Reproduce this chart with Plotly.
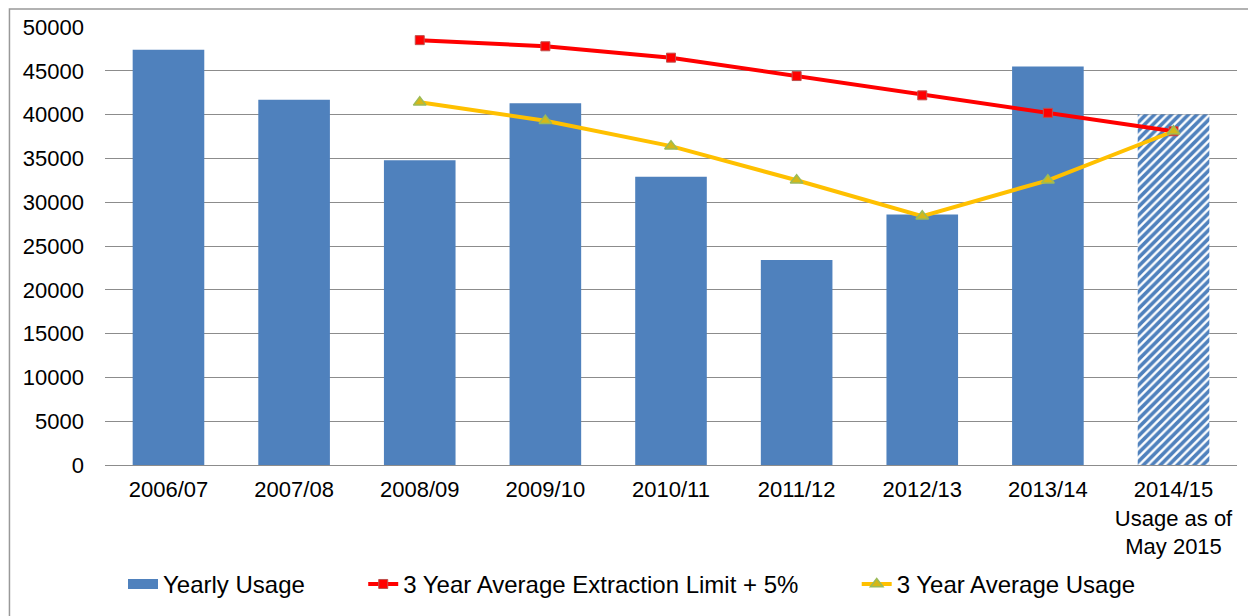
import plotly.graph_objects as go

categories = ["2006/07", "2007/08", "2008/09", "2009/10", "2010/11",
              "2011/12", "2012/13", "2013/14", "2014/15<br>Usage as of<br>May 2015"]
yearly_usage = [47400, 41700, 34800, 41300, 32900, 23400, 28600, 45500, 40000]
extraction_limit = [None, None, 48500, 47800, 46500, 44400, 42200, 40200, 38100]
avg_usage = [None, None, 41400, 39300, 36400, 32500, 28400, 32500, 38100]
y_ticks = [0, 5000, 10000, 15000, 20000, 25000, 30000, 35000, 40000, 45000, 50000]

BLUE = "#4F81BD"
NB = "\u00a0"

fig = go.Figure()
fig.add_trace(go.Bar(
    x=categories, y=yearly_usage, name="Yearly Usage", showlegend=False,
    marker=dict(color=BLUE, line=dict(width=0),
                pattern=dict(shape=[""] * 8 + ["/"], fgcolor=BLUE, bgcolor="white",
                             fgopacity=1, size=6, solidity=0.6)),
))
# legend swatch for the bars
fig.add_trace(go.Scatter(
    x=[None], y=[None], name="Yearly Usage" + NB * 8, mode="lines",
    line=dict(color=BLUE, width=12),
))
fig.add_trace(go.Scatter(
    x=categories, y=extraction_limit, name="3 Year Average Extraction Limit + 5%" + NB * 8,
    mode="lines+markers",
    line=dict(color="#FF0000", width=4),
    marker=dict(symbol="square", size=9, color="#FF0000", line=dict(color="#C0504D", width=1)),
))
fig.add_trace(go.Scatter(
    x=categories, y=avg_usage, name="3 Year Average Usage",
    mode="lines+markers",
    line=dict(color="#FFC000", width=4),
    marker=dict(symbol="triangle-up", size=11, color="#D4B818", line=dict(color="#9BBB59", width=1.5)),
))

fig.update_layout(
    width=1248, height=608,
    margin=dict(l=97, r=19, t=19, b=151, autoexpand=False),
    paper_bgcolor="white", plot_bgcolor="white",
    font=dict(family="Liberation Sans, Arial, sans-serif", size=22, color="#000000"),
    bargap=0.43,
    showlegend=True,
    legend=dict(orientation="h", xref="container", yref="container",
                x=0.5, xanchor="center", y=0.052, yanchor="middle",
                font=dict(size=24), tracegroupgap=0),
    xaxis=dict(showline=False, ticks="", tickfont=dict(size=22), showgrid=False,
               ticklabelstandoff=9, automargin=False),
    yaxis=dict(range=[0, 50000], tickvals=y_ticks, tickformat="d", showgrid=True,
               gridcolor="#8C8C8C", gridwidth=1, showline=False, ticks="", zeroline=True,
               zerolinecolor="#8C8C8C", zerolinewidth=1, tickfont=dict(size=22),
               ticklabelstandoff=20, automargin=False),
    shapes=[dict(type="rect", xref="paper", yref="paper",
                 x0=-0.0844, x1=1.03, y0=-0.4, y1=1.0411,
                 line=dict(color="#999999", width=1.5), layer="below")],
)

fig.write_html("out.html")
